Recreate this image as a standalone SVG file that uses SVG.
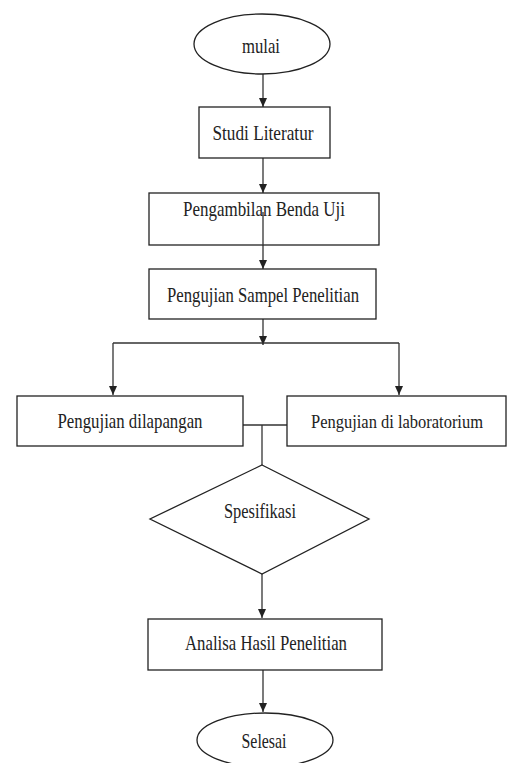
<svg xmlns="http://www.w3.org/2000/svg" width="508" height="763" viewBox="0 0 508 763">
<defs>
<style>
.s{fill:#fff;stroke:#222;stroke-width:1.3}
.t{font-family:"Liberation Serif","Times New Roman",serif;font-size:21px;fill:#222;text-anchor:middle}
.c{stroke:#333;stroke-width:1.3;fill:none}
</style>
<marker id="ah" markerUnits="userSpaceOnUse" markerWidth="10" markerHeight="8" refX="9" refY="4" orient="auto">
<path d="M0,0 L9,4 L0,8 z" fill="#222"/>
</marker>
</defs>
<rect width="508" height="763" fill="#fff"/>
<g id="connectors">
<line class="c" x1="263" y1="74" x2="263" y2="107" marker-end="url(#ah)"/>
<line class="c" x1="263" y1="158" x2="263" y2="193" marker-end="url(#ah)"/>
<line class="c" x1="263" y1="245" x2="263" y2="269" marker-end="url(#ah)"/>
<line class="c" x1="263" y1="319" x2="263" y2="345" marker-end="url(#ah)"/>
<polyline class="c" points="113,343 399,343"/>
<line class="c" x1="113" y1="343" x2="113" y2="395" marker-end="url(#ah)"/>
<line class="c" x1="399" y1="343" x2="399" y2="395" marker-end="url(#ah)"/>
<line class="c" x1="243" y1="425" x2="287" y2="425"/>
<line class="c" x1="262" y1="425" x2="262" y2="465"/>
<line class="c" x1="262" y1="574" x2="262" y2="618" marker-end="url(#ah)"/>
<line class="c" x1="263" y1="670" x2="263" y2="712" marker-end="url(#ah)"/>
</g>
<g id="mulai">
<ellipse class="s" cx="262" cy="44" rx="68" ry="30"/>
<text class="t" x="261" y="53" textLength="38" lengthAdjust="spacingAndGlyphs">mulai</text>
</g>
<g id="studi">
<rect class="s" x="199" y="107" width="131" height="51"/>
<text class="t" x="263" y="140" textLength="101" lengthAdjust="spacingAndGlyphs">Studi Literatur</text>
</g>
<g id="pengambilan">
<rect class="s" x="149" y="193" width="230" height="52"/>
<text class="t" x="264" y="216" textLength="162" lengthAdjust="spacingAndGlyphs">Pengambilan Benda Uji</text>
<line class="c" x1="263" y1="212" x2="263" y2="245"/>
</g>
<g id="sampel">
<rect class="s" x="149" y="269" width="227" height="50"/>
<text class="t" x="263" y="302" textLength="192" lengthAdjust="spacingAndGlyphs">Pengujian Sampel Penelitian</text>
</g>
<g id="lapangan">
<rect class="s" x="17" y="396" width="226" height="50"/>
<text class="t" x="130" y="428" textLength="145" lengthAdjust="spacingAndGlyphs">Pengujian dilapangan</text>
</g>
<g id="laboratorium">
<rect class="s" x="287" y="396" width="219" height="50"/>
<text class="t" x="397" y="428" style="font-size:18px" textLength="172" lengthAdjust="spacingAndGlyphs">Pengujian di laboratorium</text>
</g>
<g id="spesifikasi">
<polygon class="s" points="262,465 369,519 262,574 150,519"/>
<text class="t" x="260" y="518" textLength="72" lengthAdjust="spacingAndGlyphs">Spesifikasi</text>
</g>
<g id="analisa">
<rect class="s" x="148" y="619" width="234" height="51"/>
<text class="t" x="266" y="650" textLength="162" lengthAdjust="spacingAndGlyphs">Analisa Hasil Penelitian</text>
</g>
<g id="selesai">
<ellipse class="s" cx="265" cy="740" rx="68" ry="27"/>
<text class="t" x="264" y="748" textLength="45" lengthAdjust="spacingAndGlyphs">Selesai</text>
</g>
</svg>
